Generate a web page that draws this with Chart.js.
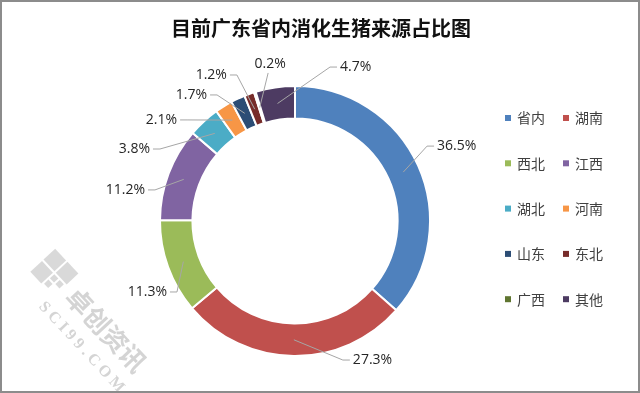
<!DOCTYPE html>
<html>
<head>
<meta charset="utf-8">
<script src="https://cdn.jsdelivr.net/npm/chart.js@4/dist/chart.umd.min.js"></script>
<style>
	html, body { margin: 0; padding: 0; background: #fff; }
	#wrap { width: 640px; height: 393px; position: relative; }
</style>
</head>
<body>
<div id="wrap"><canvas id="myChart"></canvas></div>
<script>
const chartTitle = "目前广东省内消化生猪来源占比图";
const categories = ["省内", "湖南", "西北", "江西", "湖北", "河南", "山东", "东北", "广西", "其他"];
const shares = [36.5, 27.3, 11.3, 11.2, 3.8, 2.1, 1.7, 1.2, 0.2, 4.7];
const sliceColors = ["#4F81BD", "#C0504D", "#9BBB59", "#8064A2", "#4BACC6", "#F79646", "#2C4D75", "#772C2A", "#5F7530", "#4D3B62"];

// where each percentage label sits: [angle clockwise from top (deg), distance from centre, text align]
const labelPlacement = [
	[62.2, 160.6, "left"],
	[157.4, 150.6, "left"],
	[241.0, 146.4, "right"],
	[281.7, 153.2, "right"],
	[296.4, 161.9, "right"],
	[310.6, 155.3, "right"],
	[325.1, 153.7, "right"],
	[335.0, 161.1, "right"],
	[351.0, 159.0, "center"],
	[16.3, 160.4, "left"],
];

const labelFont = "14px 'Open Sans', 'Liberation Sans', sans-serif";
const cjkFont = "'Noto Sans CJK SC', sans-serif";

const framePlugin = {
	id: "frame",
	beforeDraw(chart) {
		const ctx = chart.ctx;
		ctx.save();
		ctx.fillStyle = "#fff";
		ctx.fillRect(0, 0, chart.width, chart.height);

		// faint watermark in the lower left
		ctx.translate(88, 322);
		ctx.rotate((47 * Math.PI) / 180);
		ctx.fillStyle = "rgba(160,160,160,0.45)";
		ctx.font = "bold 26px " + cjkFont;
		ctx.textAlign = "center";
		ctx.textBaseline = "middle";
		ctx.fillText("卓创资讯", 18, -8);
		ctx.font = "bold 16px 'Liberation Serif', serif";
		ctx.fillText("S C I 9 9 . C O M", 14, 22);
		ctx.fillStyle = "rgba(160,160,160,0.4)";
		ctx.fillRect(-76, -26, 16, 16);
		ctx.fillRect(-76, -8, 16, 16);
		ctx.fillRect(-58, -26, 16, 16);
		ctx.fillRect(-58, -8, 6, 6);
		ctx.fillRect(-50, -8, 6, 6);
		ctx.fillRect(-58, 0, 6, 6);
		ctx.restore();
	},
	afterDraw(chart) {
		const ctx = chart.ctx;
		const meta = chart.getDatasetMeta(0);
		const first = meta.data[0];
		const cx = first.x;
		const cy = first.y;

		ctx.save();
		// leader lines + percentage labels
		ctx.font = labelFont;
		ctx.textBaseline = "middle";
		meta.data.forEach((arc, i) => {
			const [deg, dist, align] = labelPlacement[i];
			const rad = (deg * Math.PI) / 180;
			const ax = cx + dist * Math.sin(rad);
			const ay = cy - dist * Math.cos(rad);
			const mid = arc.getCenterPoint();

			ctx.strokeStyle = "#A6A6A6";
			ctx.lineWidth = 1;
			ctx.beginPath();
			ctx.moveTo(mid.x, mid.y);
			if (align === "left") {
				ctx.lineTo(ax - 10, ay);
				ctx.lineTo(ax - 3, ay);
			} else if (align === "right") {
				ctx.lineTo(ax + 10, ay);
				ctx.lineTo(ax + 3, ay);
			} else {
				ctx.lineTo(ax - 2, ay + 9);
			}
			ctx.stroke();

			ctx.fillStyle = "#262626";
			ctx.textAlign = align;
			ctx.fillText(shares[i].toFixed(1) + "%", ax, ay);
		});

		// title
		ctx.font = "bold 20px " + cjkFont;
		ctx.textAlign = "center";
		ctx.fillStyle = "#111";
		ctx.fillText(chartTitle, 321, 28);

		// legend, two columns
		ctx.font = "14px " + cjkFont;
		ctx.textAlign = "left";
		categories.forEach((name, i) => {
			const col = i % 2;
			const row = Math.floor(i / 2);
			const x = 505 + col * 58;
			const y = 118 + row * 45.3;
			ctx.fillStyle = sliceColors[i];
			ctx.fillRect(x, y - 3, 6, 6);
			ctx.fillStyle = "#404040";
			ctx.fillText(name, x + 12, y);
		});

		// outer frame
		ctx.strokeStyle = "#8C8C8C";
		ctx.lineWidth = 2;
		ctx.strokeRect(1, 1, chart.width - 2, chart.height - 2);
		ctx.restore();
	},
};

const ctx = document.getElementById("myChart");
const chartInstance = new Chart(ctx, {
	type: "doughnut",
	data: {
		labels: categories,
		datasets: [
			{
				data: shares,
				backgroundColor: sliceColors,
				borderColor: "#fff",
				borderWidth: 2,
			},
		],
	},
	options: {
		responsive: true,
		maintainAspectRatio: false,
		animation: false,
		cutout: "76%",
		layout: {
			padding: { left: 159, right: 209, top: 85, bottom: 36 },
		},
		plugins: {
			legend: { display: false },
			title: { display: false },
			tooltip: { enabled: false },
		},
	},
	plugins: [framePlugin],
});
</script>
</body>
</html>
